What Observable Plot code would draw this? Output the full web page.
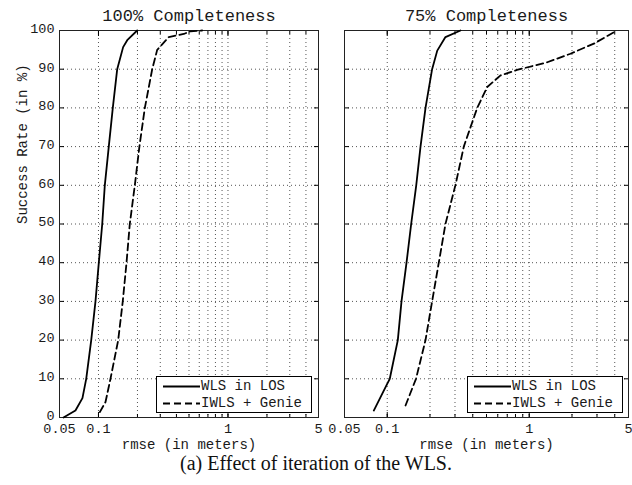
<!DOCTYPE html>
<html>
<head>
<meta charset="utf-8">
<script src="https://cdn.jsdelivr.net/npm/d3@7"></script>
<script src="https://cdn.jsdelivr.net/npm/@observablehq/plot@0.6"></script>
<style>
  body { margin: 0; background: #fff; }
  #wrap { position: relative; width: 632px; height: 485px; background: #fff; overflow: hidden; }
  .panel { position: absolute; top: 0; }
  .legend { position: absolute; border: 1px solid #000; background: #fff; font-family: "Liberation Mono", monospace; font-size: 14px; color: #1a1a1a; box-sizing: border-box; }
  .legend .row { position: absolute; left: 0; height: 17px; line-height: 17px; white-space: pre; }
  .legend svg { position: absolute; left: 5px; top: 0; }
  .legend span { position: absolute; left: 44px; top: 0; }
  #caption { position: absolute; left: 0; width: 632px; top: 451px; text-align: center; font-family: "Liberation Serif", "Times New Roman", serif; font-size: 20px; line-height: 24px; color: #111; }
</style>
</head>
<body>
<div id="wrap">
  <div id="left" class="panel" style="left:0px"></div>
  <div id="right" class="panel" style="left:320px"></div>
  <div id="caption">(a) Effect of iteration of the WLS.</div>
</div>
<script>
// ---- data ----
const panelTitles = ["100% Completeness", "75% Completeness"];
const seriesNames = ["WLS in LOS", "IWLS + Genie"];
const xTickValues = [0.05, 0.1, 1, 5];
const xTickLabels = ["0.05", "0.1", "1", "5"];
const xGridValues = [0.1, 0.2, 0.3, 0.4, 0.5, 0.6, 0.7, 0.8, 0.9, 1, 2, 3, 4];
const yTickValues = [0, 10, 20, 30, 40, 50, 60, 70, 80, 90, 100];
const xLabel = "rmse (in meters)";
const yLabel = "Success Rate (in %)";

// 100% completeness
const wls100Rmse = [0.0537, 0.0664, 0.0752, 0.0804, 0.0879, 0.0948, 0.1006, 0.1069, 0.1119, 0.1201, 0.129, 0.1395, 0.155, 0.1667, 0.199];
const wls100Rate = [0, 1.8, 5, 10, 20, 30, 40, 50, 60, 70, 80, 90, 95.7, 97.5, 100];
const iwls100Rmse = [0.1024, 0.1133, 0.1238, 0.142, 0.154, 0.1646, 0.1745, 0.1908, 0.207, 0.228, 0.26, 0.284, 0.349, 0.456, 0.513, 0.632];
const iwls100Rate = [1.4, 4, 10, 20, 30, 40, 50, 60, 70, 80, 90, 95, 98.3, 99.1, 99.8, 100];

// 75% completeness
const wls75Rmse = [0.0804, 0.0999, 0.1042, 0.1187, 0.126, 0.1367, 0.1474, 0.16, 0.1715, 0.186, 0.207, 0.225, 0.257, 0.328];
const wls75Rate = [1.8, 8.7, 10, 20, 30, 40, 50, 60, 70, 80, 90, 94.8, 98.3, 100];
const iwls75Rmse = [0.1345, 0.1594, 0.186, 0.207, 0.2307, 0.257, 0.302, 0.346, 0.43, 0.506, 0.628, 0.82, 1.34, 1.95, 2.85, 4.05];
const iwls75Rate = [3.1, 10, 20, 30, 40, 50, 60, 70, 80, 85.4, 88.4, 89.8, 91.8, 94, 96.6, 99.8];

const toRows = (xs, ys) => xs.map((x, i) => ({x, y: ys[i]}));

const FONT = "Liberation Mono, DejaVu Sans Mono, monospace";
const INK = "#1a1a1a";

function panel({title, wls, iwls, width, marginLeft, marginRight, showYLabels}) {
  const noText = {tickFormat: () => "", stroke: "#000", label: null};
  const marks = [
    Plot.gridX(xGridValues, {stroke: "#000", strokeOpacity: 0.85, strokeWidth: 0.8, strokeDasharray: "1,3"}),
    Plot.gridY(yTickValues.slice(1, -1), {stroke: "#000", strokeOpacity: 0.85, strokeWidth: 0.8, strokeDasharray: "1,3"}),
    // inward tick marks
    Plot.axisX(xTickValues, {anchor: "bottom", tickSize: -5, ...noText}),
    Plot.axisX(xGridValues, {anchor: "bottom", tickSize: -3, ...noText}),
    Plot.axisX(xTickValues, {anchor: "top", tickSize: -5, ...noText}),
    Plot.axisX(xGridValues, {anchor: "top", tickSize: -3, ...noText}),
    Plot.axisY(yTickValues, {anchor: "left", tickSize: -5, ...noText}),
    Plot.axisY(yTickValues, {anchor: "right", tickSize: -5, ...noText}),
    // x tick labels
    Plot.text(xTickValues, {x: d => d, frameAnchor: "bottom", dy: 11.5, text: (d, i) => xTickLabels[i], fontSize: 13.5, fill: INK, lineAnchor: "middle"}),
    Plot.frame({stroke: "#222", strokeWidth: 1}),
    Plot.line(toRows(wls[0], wls[1]), {x: "x", y: "y", stroke: "#000", strokeWidth: 1.8}),
    Plot.line(toRows(iwls[0], iwls[1]), {x: "x", y: "y", stroke: "#000", strokeWidth: 1.8, strokeDasharray: "7,4"}),
    Plot.text([title], {frameAnchor: "top", dy: -15, fontSize: 17, fill: INK, lineAnchor: "middle"}),
    Plot.text([xLabel], {frameAnchor: "bottom", dy: 27, fontSize: 14, fill: INK, lineAnchor: "middle"})
  ];
  if (showYLabels) {
    marks.push(Plot.text(yTickValues, {y: d => d, frameAnchor: "left", dx: -5, dy: -2, textAnchor: "end", fontSize: 13.5, fill: INK, lineAnchor: "middle"}));
    marks.push(Plot.text([yLabel], {frameAnchor: "left", dx: -37, rotate: -90, fontSize: 14, fill: INK, lineAnchor: "middle"}));
  }
  return Plot.plot({
    width, height: 450,
    marginLeft, marginRight, marginTop: 30, marginBottom: 33,
    style: {fontFamily: FONT, fontSize: "14px", background: "transparent", overflow: "visible"},
    x: {type: "log", domain: [0.05, 5], axis: null},
    y: {domain: [0, 100], axis: null},
    marks
  });
}

document.getElementById("left").append(panel({
  title: panelTitles[0], wls: [wls100Rmse, wls100Rate], iwls: [iwls100Rmse, iwls100Rate],
  width: 320, marginLeft: 59, marginRight: 2, showYLabels: true
}));
document.getElementById("right").append(panel({
  title: panelTitles[1], wls: [wls75Rmse, wls75Rate], iwls: [iwls75Rmse, iwls75Rate],
  width: 312, marginLeft: 24, marginRight: 4, showYLabels: false
}));

// legends (layout only)
function legend(left) {
  const div = document.createElement("div");
  div.className = "legend";
  Object.assign(div.style, {left: left + "px", top: "376px", width: "156px", height: "37px"});
  seriesNames.forEach((name, i) => {
    const row = document.createElement("div");
    row.className = "row";
    row.style.top = (1 + i * 17) + "px";
    row.style.width = "154px";
    const dash = i === 0 ? "" : "stroke-dasharray='7,4'";
    row.innerHTML = `<svg width="38" height="17"><line x1="1" x2="38" y1="8.5" y2="8.5" stroke="#000" stroke-width="1.8" ${dash}/></svg><span>${name}</span>`;
    div.append(row);
  });
  document.getElementById("wrap").append(div);
}
legend(156);
legend(467);
</script>
</body>
</html>
